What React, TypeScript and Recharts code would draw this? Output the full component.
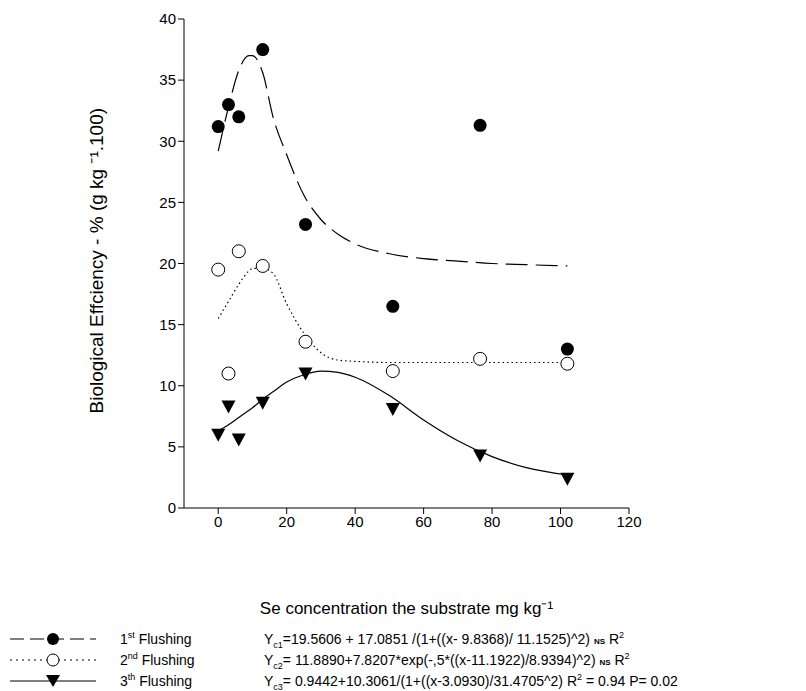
import { ComposedChart, Line, Scatter, XAxis, YAxis, Label } from 'recharts'

const se = [0, 3, 6, 13, 25.5, 51, 76.5, 102]
const first = [31.2, 33, 32, 37.5, 23.2, 16.5, 31.3, 13]
const second = [19.5, 11, 21, 19.8, 13.6, 11.2, 12.2, 11.8]
const third = [6, 8.3, 5.6, 8.6, 11, 8.1, 4.3, 2.4]

const fitX = [0, 3, 6, 9, 10, 13, 16, 20, 25, 30, 35, 40, 50, 60, 70, 80, 90, 102]
const fit1 = [29.2, 32.8, 35.8, 37.0, 37.0, 35.6, 32.0, 28.9, 25.6, 23.6, 22.4, 21.6, 20.8, 20.4, 20.2, 20.0, 19.9, 19.8]
const fit2 = [15.5, 16.9, 18.3, 19.4, 19.6, 19.6, 19.2, 16.7, 14.3, 12.7, 12.1, 12.0, 11.9, 11.9, 11.9, 11.9, 11.9, 11.9]
const fit3 = [6.3, 6.8, 7.4, 8.0, 8.2, 8.9, 9.5, 10.3, 10.9, 11.2, 11.1, 10.7, 9.2, 7.2, 5.5, 4.2, 3.3, 2.7]

const xTicks = [0, 20, 40, 60, 80, 100, 120]
const yTicks = [0, 5, 10, 15, 20, 25, 30, 35, 40]

const pts = (ys: number[]) => se.map((x, i) => ({ x, y: ys[i] }))
const curve = (ys: number[]) => fitX.map((x, i) => ({ x, y: ys[i] }))

const Dot = (p: any) => <circle cx={p.cx} cy={p.cy} r={6.5} fill="#000" />
const Ring = (p: any) => <circle cx={p.cx} cy={p.cy} r={6.5} fill="#fff" stroke="#000" strokeWidth={1} />
const Tri = (p: any) => (
  <path d={`M${p.cx - 7},${p.cy - 6} L${p.cx + 7},${p.cy - 6} L${p.cx},${p.cy + 7} Z`} fill="#000" />
)

const font = 'Liberation Sans, Arial, sans-serif'
const tick = { fontSize: 15, fill: '#000', fontFamily: font }

const legend = [
  { name: '1st Flushing', sup: 'st', dash: '14 6', mark: 'dot', eq: ['Y', 'c1', '=19.5606 + 17.0851 /(1+((x- 9.8368)/ 11.1525)^2) ', 'NS', ' R', '2'] },
  { name: '2nd Flushing', sup: 'nd', dash: '2 4', mark: 'ring', eq: ['Y', 'c2', '= 11.8890+7.8207*exp(-,5*((x-11.1922)/8.9394)^2) ', 'NS', ' R', '2'] },
  { name: '3th Flushing', sup: 'th', dash: '', mark: 'tri', eq: ['Y', 'c3', '= 0.9442+10.3061/(1+((x-3.0930)/31.4705^2) R', '2', ' = 0.94 P= 0.02', ''] },
]

export default function App() {
  return (
    <div style={{ position: 'relative', width: 806, height: 683, fontFamily: font }}>
      <ComposedChart width={806} height={620} margin={{ top: 11, right: 185, bottom: 90, left: 76 }}>
        <XAxis type="number" dataKey="x" domain={[-10, 120]} ticks={xTicks} tick={tick} stroke="#000" tickLine={{ stroke: '#000' }} allowDataOverflow>
          <Label value="Se  concentration the substrate mg kg⁻¹" position="bottom" offset={64} style={{ fontSize: 17, fill: '#000', fontFamily: font }} />
        </XAxis>
        <YAxis type="number" dataKey="y" domain={[0, 40]} ticks={yTicks} tick={tick} stroke="#000" width={100}>
          <Label value="Biological Effciency - % (g kg ⁻¹.100)" angle={-90} position="insideLeft" offset={12} dy={150} style={{ fontSize: 19, fill: '#000', fontFamily: font }} />
        </YAxis>
        <Line data={curve(fit1)} dataKey="y" type="monotone" stroke="#000" strokeWidth={1.2} strokeDasharray="22 8" dot={false} isAnimationActive={false} />
        <Line data={curve(fit2)} dataKey="y" type="monotone" stroke="#000" strokeWidth={1.2} strokeDasharray="1.5 3" dot={false} isAnimationActive={false} />
        <Line data={curve(fit3)} dataKey="y" type="monotone" stroke="#000" strokeWidth={1.2} dot={false} isAnimationActive={false} />
        <Scatter data={pts(first)} shape={Dot} isAnimationActive={false} />
        <Scatter data={pts(second)} shape={Ring} isAnimationActive={false} />
        <Scatter data={pts(third)} shape={Tri} isAnimationActive={false} />
      </ComposedChart>
      {legend.map((l, i) => (
        <div key={i} style={{ position: 'absolute', left: 0, top: 621 + i * 21, height: 20, width: 806, fontSize: 14, lineHeight: '18px' }}>
          <svg width={90} height={20} style={{ position: 'absolute', left: 0, top: 0 }}>
            <line x1={2} x2={88} y1={10} y2={10} stroke="#000" strokeWidth={1.2} strokeDasharray={l.dash} />
            {l.mark === 'dot' && <circle cx={45} cy={10} r={6} fill="#000" />}
            {l.mark === 'ring' && <circle cx={45} cy={10} r={6} fill="#fff" stroke="#000" />}
            {l.mark === 'tri' && <path d="M38,4 L52,4 L45,16 Z" fill="#000" />}
          </svg>
          <span style={{ position: 'absolute', left: 112, top: 1 }}>
            {l.name.slice(0, 1)}<sup style={{ fontSize: 9, lineHeight: 0 }}>{l.sup}</sup>{l.name.slice(3)}
          </span>
          <span style={{ position: 'absolute', left: 256, top: 1, whiteSpace: 'nowrap' }}>
            {l.eq[0]}<sub style={{ fontSize: 9, lineHeight: 0 }}>{l.eq[1]}</sub>{l.eq[2]}
            {i < 2 ? <b style={{ fontSize: 8 }}>{l.eq[3]}</b> : <sup style={{ fontSize: 9, lineHeight: 0 }}>{l.eq[3]}</sup>}
            {l.eq[4]}<sup style={{ fontSize: 9, lineHeight: 0 }}>{l.eq[5]}</sup>
          </span>
        </div>
      ))}
    </div>
  )
}
